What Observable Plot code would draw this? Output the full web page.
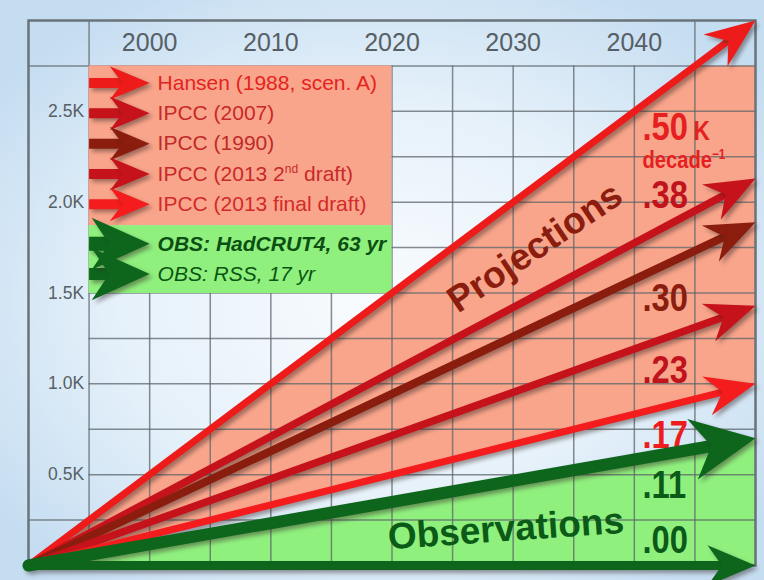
<!DOCTYPE html>
<html>
<head>
<meta charset="utf-8">
<script src="https://cdn.jsdelivr.net/npm/d3@7"></script>
<script src="https://cdn.jsdelivr.net/npm/@observablehq/plot@0.6"></script>
<style>
  html, body { margin: 0; padding: 0; }
  body {
    width: 764px; height: 580px; overflow: hidden;
    background: radial-gradient(ellipse 62% 62% at 50% 52%, #f9fcfe 0%, #e6f1fa 55%, #c5ddf1 100%);
  }
  #chart svg { display: block; }
</style>
</head>
<body>
<div id="chart"></div>
<script>
// ---------------- data ----------------
const seriesNames = [
  "Hansen (1988, scen. A)",
  "IPCC (2007)",
  "IPCC (1990)",
  "IPCC (2013 2nd draft)",
  "IPCC (2013 final draft)",
  "OBS: HadCRUT4, 63 yr",
  "OBS: RSS, 17 yr"
];
// rate labels printed at the right (K per decade)
const rateLabels = [".50", ".38", ".30", ".23", ".17", ".11", ".00"];
// warming (K) reached by each arrow in 2050, counted from 1990
const valueIn2050 = [3.00, 2.13, 1.89, 1.43, 1.00, 0.70, 0.00];
const startYear = 1990;
const endYear = 2050;
const yearTicks = [2000, 2010, 2020, 2030, 2040];
const kTicks = [0.5, 1.0, 1.5, 2.0, 2.5];
const kTickLabels = ["0.5K", "1.0K", "1.5K", "2.0K", "2.5K"];
const rateUnit = "K";
const rateUnit2 = "decade-1";

// ---------------- styles / layout ----------------
const arrowColors = ["#ee1b1b", "#c5121b", "#8a1d0e", "#c5121b", "#f41c1c", "#0d661c", "#0d661c"];
const labelColors = ["#e5201f", "#c0131c", "#8a1d0e", "#c0131c", "#ee1c1c", "#0c5a17", "#0c5a17"];
const legendTextColors = ["#e4231f", "#c8292a", "#c02a28", "#c8292a", "#d32a2a", "#0b4f12", "#0b5513"];
const shaftWidths = [7, 7.5, 8, 7.5, 7, 12, 9];
const legendShaftWidths = [10, 10, 10, 10, 10, 14, 12];
const rateLabelY = [2.412, 2.034, 1.472, 1.071, 0.718, 0.438, 0.135];

const W = 764, H = 580, mL = 28, mR = 9, mT = 20, mB = 15, yMax = 3.0;
const pxPerYear = (W - mL - mR) / (endYear - startYear);
const pxPerK = (H - mT - mB) / yMax;
const slopeAngle = (k) => Math.atan2(k * pxPerK, (endYear - startYear) * pxPerYear) * 180 / Math.PI;
const headerK = 2.75;
const sans = "'Liberation Sans', Arial, sans-serif";

const rows = seriesNames.map((name, i) => ({
  i, name, end: valueIn2050[i], rate: rateLabels[i],
  color: arrowColors[i], labelColor: labelColors[i], textColor: legendTextColors[i],
  sw: shaftWidths[i], lsw: legendShaftWidths[i], labelY: rateLabelY[i],
  rotate: 90 - slopeAngle(valueIn2050[i]),
  legendY: 2.656 - i * 0.167 - (i >= 5 ? 0.05 : 0)
}));

function headShape(ratio, notch) {
  return {
    draw(context, l) {
      const w = l * ratio;
      context.moveTo(0, -l);
      context.lineTo(w, 0);
      context.lineTo(0, -l * notch);
      context.lineTo(-w, 0);
      context.closePath();
    }
  };
}

// filled regions derived from the arrows
const hansenEnd = valueIn2050[0];
const lowProj = valueIn2050[4];
const hadEnd = valueIn2050[5];
const crossYear = startYear + (endYear - startYear) * headerK / hansenEnd;
const salmon = [startYear, crossYear, endYear].map((x) => {
  const t = (x - startYear) / (endYear - startYear);
  return {x, lo: t * lowProj, hi: Math.min(t * hansenEnd, headerK)};
});
const greenArea = [startYear, endYear].map((x) => {
  const t = (x - startYear) / (endYear - startYear);
  return {x, lo: 0, hi: t * hadEnd};
});

const hGrid = d3.range(0.25, 2.76, 0.25).map((v) => +v.toFixed(2));
const vGrid = d3.range(1995, 2046, 5);

const redRows = rows.filter((d) => d.i < 5);
const greenRows = rows.filter((d) => d.i >= 5);

const chart = Plot.plot({
  width: W, height: H,
  marginLeft: mL, marginRight: mR, marginTop: mT, marginBottom: mB,
  x: {domain: [startYear, endYear], axis: null},
  y: {domain: [0, yMax], axis: null},
  style: {background: "none", fontFamily: sans},
  marks: [
    Plot.areaY(salmon, {x: "x", y1: "lo", y2: "hi", fill: "#f9a58b"}),
    Plot.areaY(greenArea, {x: "x", y1: "lo", y2: "hi", fill: "#8ff07e"}),
    // grid
    Plot.ruleY(hGrid, {y: (d) => d, x1: (d) => (d === 0.25 || d === 2.75 ? startYear : 1995), x2: endYear,
      stroke: "#5d666b", strokeOpacity: 0.75, strokeWidth: 1.5}),
    Plot.ruleX(vGrid, {x: (d) => d, y1: 0, y2: (d) => (d === 1995 || d === 2045 ? yMax : headerK),
      stroke: "#5d666b", strokeOpacity: 0.75, strokeWidth: 1.5}),
    // legend boxes
    Plot.rect([0], {x1: 1995, x2: 2020, y1: 1.871, y2: headerK, fill: "#f9a58b"}),
    Plot.rect([0], {x1: 1995, x2: 2020, y1: 1.497, y2: 1.871, fill: "#8ff07e"}),
    Plot.frame({stroke: "#6a7378", strokeWidth: 2.5}),
    // axis labels
    Plot.text(yearTicks, {x: (d) => d, y: 2.875, text: (d) => String(d), fontSize: 25, fill: "#575f65"}),
    Plot.text(kTicks, {x: 1995, y: (d) => d, text: (d, i) => kTickLabels[i], dx: -5, textAnchor: "end",
      fontSize: 17.5, fill: "#575f65", letterSpacing: 1.3}),
    // big words
    Plot.text(["Projections"], {x: 2031.8, y: 1.75, text: (d) => d, rotate: -34, fontSize: 37,
      fontWeight: "bold", fill: "#8a1d0e"}),
    Plot.text(["Observations"], {x: 2029.4, y: 0.2, text: (d) => d, rotate: -4, fontSize: 37,
      fontWeight: "bold", fill: "#0c5a17"}),
    // rate labels
    Plot.text(rows, {x: 2040.67, y: "labelY", text: "rate", fill: "labelColor", textAnchor: "start",
      fontSize: 39, fontWeight: "bold"}),
    Plot.text([rateUnit], {x: 2040.67, y: 2.392, text: (d) => d, dx: 51, textAnchor: "start",
      fontSize: 27, fontWeight: "bold", fill: labelColors[0]}),
    Plot.text([rateUnit2], {x: 2040.67, y: 2.228, text: (d) => d, textAnchor: "start",
      fontSize: 24, fontWeight: "bold", fill: labelColors[0]}),
    // main arrows
    Plot.arrow(rows, {x1: startYear, y1: 0, x2: endYear, y2: "end", stroke: "color", strokeWidth: "sw",
      headLength: 0, insetEnd: 30}),
    Plot.vector(redRows, {x: endYear, y: "end", rotate: "rotate", anchor: "end", length: 50,
      shape: headShape(0.4, 0.32), fill: "color", stroke: "none"}),
    Plot.vector(greenRows.filter((d) => d.i === 5), {x: endYear, y: "end", rotate: "rotate", anchor: "end", length: 64,
      shape: headShape(0.48, 0.3), fill: "color", stroke: "none"}),
    Plot.vector(greenRows.filter((d) => d.i === 6), {x: endYear, y: "end", rotate: "rotate", anchor: "end", length: 48,
      shape: headShape(0.42, 0.3), fill: "color", stroke: "none"}),
    // legend arrows
    Plot.arrow(rows, {x1: 1995, y1: "legendY", x2: 2000, y2: "legendY", stroke: "color", strokeWidth: "lsw",
      headLength: 0, insetEnd: 26, strokeLinecap: "butt"}),
    Plot.vector(redRows, {x: 2000, y: "legendY", rotate: 90, anchor: "end", length: 40,
      shape: headShape(0.42, 0.32), fill: "color", stroke: "none"}),
    Plot.vector(greenRows, {x: 2000, y: "legendY", rotate: 90, anchor: "end", length: 58,
      shape: headShape(0.45, 0.3), fill: "color", stroke: "none"}),
    // legend text
    Plot.text(redRows, {x: 2000.65, y: "legendY", text: "name", fill: "textColor", textAnchor: "start", fontSize: 21}),
    Plot.text(greenRows.filter((d) => d.i === 5), {x: 2000.65, y: "legendY", text: "name", fill: "textColor",
      textAnchor: "start", fontSize: 21, fontWeight: "bold", fontStyle: "italic"}),
    Plot.text(greenRows.filter((d) => d.i === 6), {x: 2000.65, y: "legendY", text: "name", fill: "textColor",
      textAnchor: "start", fontSize: 21, fontStyle: "italic"})
  ]
});

document.getElementById("chart").append(chart);

const root = d3.select(chart);
root.selectAll("g[aria-label=arrow], g[aria-label=vector]")
  .style("filter", "drop-shadow(3px 3px 2px rgba(50,35,35,0.45))");

const condensed = new Set([...rateLabels, rateUnit, rateUnit2]);
root.selectAll("text").each(function () {
  const t = this.textContent;
  if (condensed.has(t)) {
    const tr = this.getAttribute("transform");
    if (tr) {
      this.setAttribute("transform", tr + " scale(0.84,1)");
    } else {
      const x = this.getAttribute("x") || 0, y = this.getAttribute("y") || 0;
      this.removeAttribute("x"); this.removeAttribute("y");
      this.setAttribute("transform", `translate(${x},${y}) scale(0.84,1)`);
    }
  }
  if (t === "IPCC (2013 2nd draft)") {
    this.textContent = "";
    const s = d3.select(this);
    s.append("tspan").text("IPCC (2013 2");
    s.append("tspan").attr("dy", -8).attr("font-size", 12).text("nd");
    s.append("tspan").attr("dy", 8).text(" draft)");
  } else if (t === "decade-1") {
    this.textContent = "";
    const s = d3.select(this);
    s.append("tspan").text("decade");
    s.append("tspan").attr("dy", -9).attr("font-size", 14).text("\u22121");
  }
});
</script>
</body>
</html>
